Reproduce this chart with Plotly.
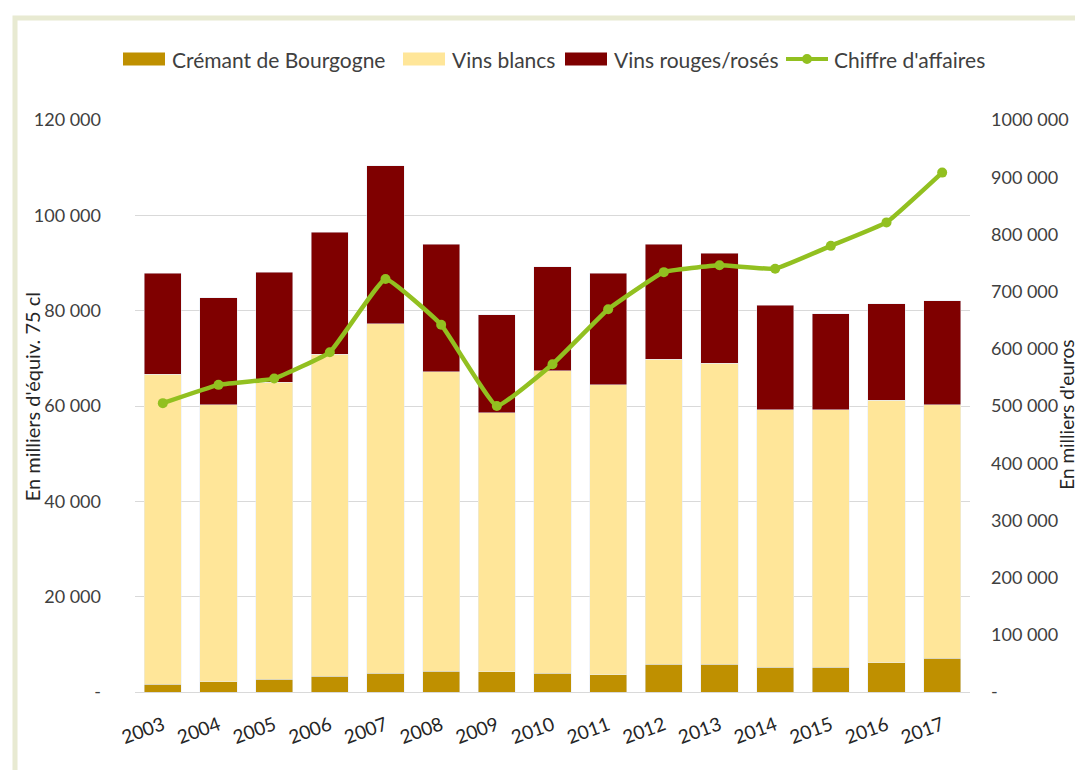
import plotly.graph_objects as go

years = ["2003", "2004", "2005", "2006", "2007", "2008", "2009", "2010",
         "2011", "2012", "2013", "2014", "2015", "2016", "2017"]
cremant = [1600, 2200, 2700, 3300, 3900, 4400, 4200, 3900, 3600, 5800, 5800, 5200, 5200, 6100, 7100]
blancs = [65100, 58100, 62300, 67600, 73400, 62800, 54400, 63500, 60900, 64000, 63200, 54000, 54000, 55100, 53200]
rouges = [21200, 22400, 23100, 25500, 33100, 26700, 20500, 21800, 23400, 24100, 23000, 21900, 20200, 20200, 21800]
chiffre = [505000, 537000, 548000, 594000, 722000, 642000, 500000, 573000, 669000, 734000, 746000, 740000, 780000, 821000, 908000]

left_ticks = [0, 20000, 40000, 60000, 80000, 100000, 120000]
left_labels = ["-", "20 000", "40 000", "60 000", "80 000", "100 000", "120 000"]
right_ticks = [0, 100000, 200000, 300000, 400000, 500000, 600000, 700000, 800000, 900000, 1000000]
right_labels = ["-", "100 000", "200 000", "300 000", "400 000", "500 000", "600 000",
                "700 000", "800 000", "900 000", "1000 000"]

names = ["Crémant de Bourgogne", "Vins blancs", "Vins rouges/rosés", "Chiffre d'affaires"]
colors = ["#bf9000", "#ffe699", "#7f0000", "#92c020"]

FONT = "Lato"
fig = go.Figure()
fig.add_trace(go.Bar(x=years, y=cremant, name=names[0], marker_color=colors[0]))
fig.add_trace(go.Bar(x=years, y=blancs, name=names[1], marker_color=colors[1]))
fig.add_trace(go.Bar(x=years, y=rouges, name=names[2], marker_color=colors[2]))
fig.add_trace(go.Scatter(x=years, y=chiffre, name=names[3], yaxis="y2",
                         mode="lines+markers", line=dict(color=colors[3], width=4.5, shape="spline", smoothing=0.3),
                         marker=dict(size=10, color=colors[3])))

# screen-space layout (page has an 8px body margin)
OFF = 8
FW, FH = 1083 - OFF, 770 - OFF
L, R, T, B = 135, 970, 120, 692.5
W, H = R - L, B - T

def px(x):
    return (x - L) / W

def py(y):
    return (B - y) / H

# custom legend (swatch left x, text left x)
leg_y = 59
leg_items = [(123, 170), (403, 450), (565, 612), (786, 832)]
shapes = [dict(type="rect", xref="paper", yref="paper",
               x0=px(15), x1=px(1100), y0=py(790), y1=py(18),
               line=dict(color="#e8ead2", width=5), fillcolor="rgba(0,0,0,0)", layer="below")]
annotations = []
for i, (sx, tx) in enumerate(leg_items):
    if i < 3:
        shapes.append(dict(type="rect", xref="paper", yref="paper",
                           x0=px(sx), x1=px(sx + 42), y0=py(leg_y + 6.5), y1=py(leg_y - 6.5),
                           fillcolor=colors[i], line=dict(width=0)))
    else:
        shapes.append(dict(type="line", xref="paper", yref="paper",
                           x0=px(sx), x1=px(sx + 42), y0=py(leg_y), y1=py(leg_y),
                           line=dict(color=colors[i], width=4)))
        shapes.append(dict(type="circle", xref="paper", yref="paper",
                           x0=px(sx + 16), x1=px(sx + 26), y0=py(leg_y + 5), y1=py(leg_y - 5),
                           fillcolor=colors[i], line=dict(width=0)))
    annotations.append(dict(text=names[i], xref="paper", yref="paper", x=px(tx), y=py(leg_y),
                            xanchor="left", yanchor="middle", showarrow=False,
                            font=dict(size=21, color="#404040")))

annotations += [
    dict(text="En milliers d'équiv. 75 cl", xref="paper", yref="paper", x=px(31.5), y=py(397),
         textangle=-90, showarrow=False, xanchor="center", yanchor="middle",
         font=dict(size=20, color="#262626")),
    dict(text="En milliers d'euros", xref="paper", yref="paper", x=px(1067), y=py(415),
         textangle=-90, showarrow=False, xanchor="center", yanchor="middle",
         font=dict(size=19, color="#262626")),
]

fig.update_layout(
    width=FW, height=FH,
    margin=dict(l=L - OFF, r=FW - (R - OFF), t=T - OFF, b=FH - (B - OFF), autoexpand=False),
    barmode="stack", bargap=0.335,
    paper_bgcolor="white", plot_bgcolor="white",
    font=dict(family=FONT, color="#404040", size=18),
    showlegend=False,
    xaxis=dict(range=[-0.5, len(years) - 0.5], tickangle=-20, tickfont=dict(size=19, color="#262626"),
               showline=True, linecolor="#d9d9d9", linewidth=1, ticks="", automargin=False,
               ticklabelstandoff=14),
    yaxis=dict(range=[0, 120000], tickvals=left_ticks, ticktext=left_labels,
               showgrid=True, gridcolor="#d9d9d9", gridwidth=1, zeroline=False,
               tickfont=dict(size=18, color="#404040"), ticklabelstandoff=33, automargin=False),
    yaxis2=dict(range=[0, 1000000], tickvals=right_ticks, ticktext=right_labels, overlaying="y",
                side="right", showgrid=False, zeroline=False, automargin=False,
                tickfont=dict(size=18, color="#404040"), ticklabelstandoff=20),
    annotations=annotations,
    shapes=shapes,
)

fig.write_html("out.html")
